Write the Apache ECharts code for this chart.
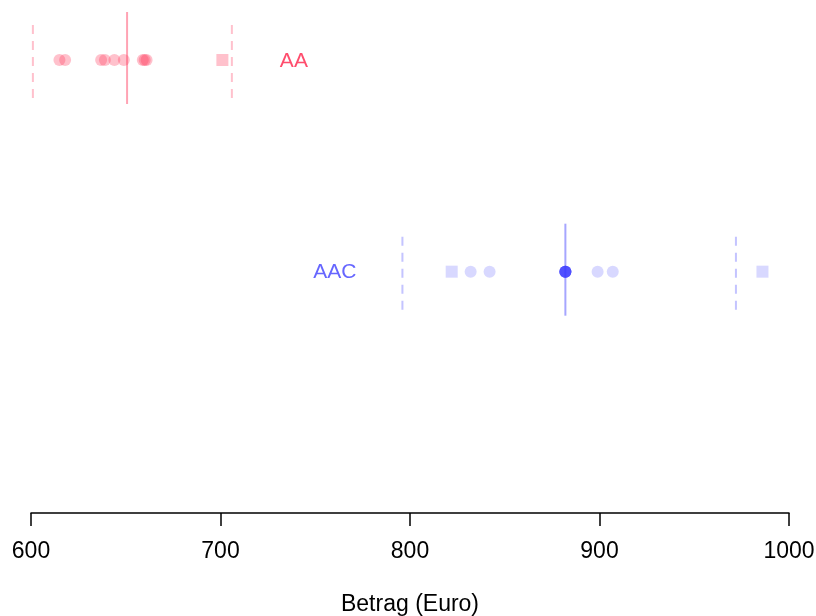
<!DOCTYPE html>
<html>
<head>
<meta charset="utf-8">
<script src="https://cdn.jsdelivr.net/npm/echarts@6/dist/echarts.min.js"></script>
<style>html,body{margin:0;padding:0;background:#fff}#c{width:816px;height:616px}</style>
</head>
<body>
<div id="c"></div>
<script>
// ---- data ----
const groups = ['AA', 'AAC'];
const groupRow = [3, 2];
const groupColors = ['#FF3358', '#3A3AFF'];
const labelColors = ['#FF4D6D', '#6666FF'];
const pointAlpha = [0.38, 0.25];
const labelSide = ['right', 'left'];
const aaValues = [615, 618, 637, 639, 644, 649, 659, 660, 661, 701];
const aaShapes = ['circle','circle','circle','circle','circle','circle','circle','circle','circle','rect'];
const aacValues = [822, 832, 842, 882, 882, 882, 882, 882, 882, 882, 882, 882, 882, 899, 907, 986];
const aacShapes = ['rect','circle','circle','circle','circle','circle','circle','circle','circle','circle','circle','circle','circle','circle','circle','rect'];
const lowerBound = [601, 796];
const medianVal = [650.7, 882];
const upperBound = [706, 972];
const xTicks = [600, 700, 800, 900, 1000];
const xTitle = 'Betrag (Euro)';

const FONT = '"Liberation Sans", Arial, Helvetica, sans-serif';

function hexA(hex, a) {
  const r = parseInt(hex.slice(1,3),16), g = parseInt(hex.slice(3,5),16), b = parseInt(hex.slice(5,7),16);
  return `rgba(${r},${g},${b},${a})`;
}

const pointSeries = [[aaValues, aaShapes], [aacValues, aacShapes]].map((pair, gi) => ({
  type: 'scatter',
  name: groups[gi],
  symbolSize: 12,
  clip: false,
  z: 3,
  data: pair[0].map((v, i) => ({ value: [v, groupRow[gi]], symbol: pair[1][i] })),
  itemStyle: { color: hexA(groupColors[gi], pointAlpha[gi]) }
}));

const whiskerData = [];
groups.forEach((g, gi) => {
  whiskerData.push([lowerBound[gi], groupRow[gi], 0, gi]);
  whiskerData.push([medianVal[gi], groupRow[gi], 1, gi]);
  whiskerData.push([upperBound[gi], groupRow[gi], 0, gi]);
});

const whiskerSeries = {
  type: 'custom',
  clip: false,
  z: 2,
  data: whiskerData,
  renderItem: function (params, api) {
    const p = api.coord([api.value(0), api.value(1)]);
    const kind = api.value(2);
    const gi = api.value(3);
    const top = kind === 1 ? p[1] - 48 : p[1] - 35;
    const bot = p[1] + 44;
    return {
      type: 'line',
      shape: { x1: p[0], y1: top, x2: p[0], y2: bot },
      style: {
        stroke: hexA(groupColors[gi], kind === 1 ? 0.45 : 0.3),
        lineWidth: 2,
        lineDash: kind === 1 ? null : [9, 7]
      }
    };
  }
};

const labelSeries = {
  type: 'custom',
  clip: false,
  z: 4,
  data: groups.map((g, gi) => [labelSide[gi] === 'right' ? upperBound[gi] : lowerBound[gi], groupRow[gi], gi]),
  renderItem: function (params, api) {
    const gi = api.value(2);
    const p = api.coord([api.value(0), api.value(1)]);
    const right = labelSide[gi] === 'right';
    return {
      type: 'text',
      x: right ? p[0] + 48 : p[0] - 46,
      y: p[1] + 1,
      style: {
        text: groups[gi],
        fill: labelColors[gi],
        font: '21px ' + FONT,
        align: right ? 'left' : 'right',
        verticalAlign: 'middle'
      }
    };
  }
};

const chart = echarts.init(document.getElementById('c'));
chart.setOption({
  backgroundColor: '#fff',
  animation: false,
  grid: { left: 31, right: 27, top: 60, bottom: 103, containLabel: false, outerBoundsMode: 'none' },
  xAxis: {
    type: 'value',
    min: xTicks[0],
    max: xTicks[xTicks.length - 1],
    interval: 100,
    name: xTitle,
    nameLocation: 'middle',
    nameGap: 80,
    nameTextStyle: { fontSize: 23, color: '#000', fontFamily: FONT },
    axisLine: { show: true, lineStyle: { color: '#000', width: 1.5 } },
    axisTick: { show: true, length: 13, lineStyle: { color: '#000', width: 1.5 } },
    axisLabel: { fontSize: 23, color: '#000', fontFamily: FONT, margin: 27, formatter: v => String(v) },
    splitLine: { show: false }
  },
  yAxis: {
    type: 'value',
    min: 0.86,
    max: 3,
    show: false,
    splitLine: { show: false }
  },
  series: [whiskerSeries].concat(pointSeries).concat([labelSeries])
});
</script>
</body>
</html>
